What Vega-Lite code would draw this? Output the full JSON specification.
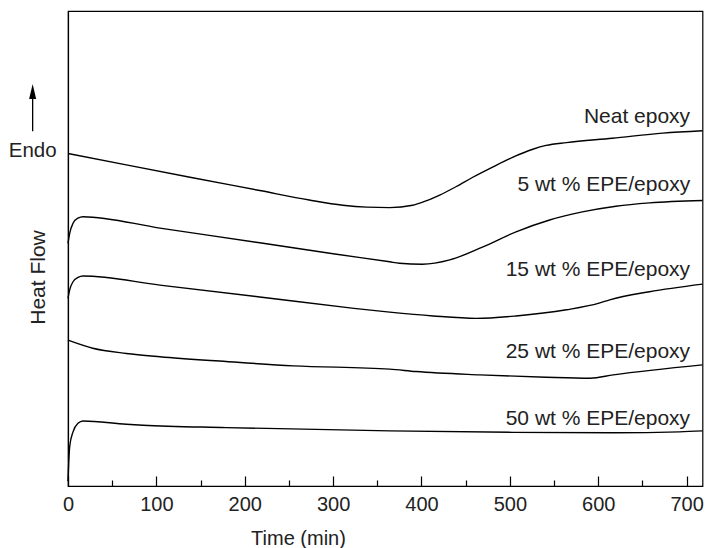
{
  "$schema": "https://vega.github.io/schema/vega-lite/v6.json",
  "width": 634.5,
  "height": 475,
  "autosize": {"type": "none"},
  "padding": {"left": 68, "top": 11, "right": 4.5, "bottom": 62},
  "config": {
    "view": {"stroke": "black", "strokeWidth": 1.2},
    "font": "Liberation Sans",
    "axis": {
      "domainColor": "black",
      "domainWidth": 1.2,
      "tickColor": "black",
      "tickWidth": 1.2,
      "labelColor": "#222",
      "titleColor": "#222",
      "labelFont": "Liberation Sans",
      "titleFont": "Liberation Sans",
      "labelFontSize": 20,
      "titleFontSize": 20,
      "titleFontWeight": "normal",
      "grid": false
    }
  },
  "datasets": {
    "curves": [
      {"series": "Neat epoxy", "time": 0, "hf": 70.0},
      {"series": "Neat epoxy", "time": 66, "hf": 67.6},
      {"series": "Neat epoxy", "time": 141, "hf": 64.9},
      {"series": "Neat epoxy", "time": 217, "hf": 62.2},
      {"series": "Neat epoxy", "time": 273, "hf": 60.2},
      {"series": "Neat epoxy", "time": 311, "hf": 59.1},
      {"series": "Neat epoxy", "time": 338, "hf": 58.7},
      {"series": "Neat epoxy", "time": 364, "hf": 58.6},
      {"series": "Neat epoxy", "time": 390, "hf": 59.1},
      {"series": "Neat epoxy", "time": 402, "hf": 59.8},
      {"series": "Neat epoxy", "time": 420, "hf": 61.2},
      {"series": "Neat epoxy", "time": 439, "hf": 63.0},
      {"series": "Neat epoxy", "time": 458, "hf": 65.0},
      {"series": "Neat epoxy", "time": 481, "hf": 67.2},
      {"series": "Neat epoxy", "time": 503, "hf": 69.2},
      {"series": "Neat epoxy", "time": 526, "hf": 70.9},
      {"series": "Neat epoxy", "time": 541, "hf": 71.7},
      {"series": "Neat epoxy", "time": 564, "hf": 72.3},
      {"series": "Neat epoxy", "time": 616, "hf": 73.2},
      {"series": "Neat epoxy", "time": 673, "hf": 74.3},
      {"series": "Neat epoxy", "time": 718, "hf": 74.8},

      {"series": "5 wt %", "time": 0, "hf": 51.1},
      {"series": "5 wt %", "time": 1.9, "hf": 53.2},
      {"series": "5 wt %", "time": 5.7, "hf": 55.3},
      {"series": "5 wt %", "time": 11.3, "hf": 56.4},
      {"series": "5 wt %", "time": 17, "hf": 56.7},
      {"series": "5 wt %", "time": 104, "hf": 54.3},
      {"series": "5 wt %", "time": 217, "hf": 51.2},
      {"series": "5 wt %", "time": 300, "hf": 48.9},
      {"series": "5 wt %", "time": 364, "hf": 47.2},
      {"series": "5 wt %", "time": 375, "hf": 46.9},
      {"series": "5 wt %", "time": 401, "hf": 46.7},
      {"series": "5 wt %", "time": 432, "hf": 47.6},
      {"series": "5 wt %", "time": 469, "hf": 50.3},
      {"series": "5 wt %", "time": 507, "hf": 53.5},
      {"series": "5 wt %", "time": 545, "hf": 56.0},
      {"series": "5 wt %", "time": 582, "hf": 57.7},
      {"series": "5 wt %", "time": 620, "hf": 58.9},
      {"series": "5 wt %", "time": 658, "hf": 59.6},
      {"series": "5 wt %", "time": 718, "hf": 60.1},

      {"series": "15 wt %", "time": 0, "hf": 39.5},
      {"series": "15 wt %", "time": 1.9, "hf": 41.3},
      {"series": "15 wt %", "time": 5.7, "hf": 43.0},
      {"series": "15 wt %", "time": 11.3, "hf": 43.9},
      {"series": "15 wt %", "time": 17, "hf": 44.2},
      {"series": "15 wt %", "time": 104, "hf": 42.3},
      {"series": "15 wt %", "time": 217, "hf": 39.8},
      {"series": "15 wt %", "time": 319, "hf": 37.5},
      {"series": "15 wt %", "time": 364, "hf": 36.6},
      {"series": "15 wt %", "time": 413, "hf": 35.8},
      {"series": "15 wt %", "time": 462, "hf": 35.3},
      {"series": "15 wt %", "time": 507, "hf": 35.8},
      {"series": "15 wt %", "time": 564, "hf": 37.1},
      {"series": "15 wt %", "time": 601, "hf": 38.5},
      {"series": "15 wt %", "time": 613, "hf": 39.2},
      {"series": "15 wt %", "time": 658, "hf": 40.9},
      {"series": "15 wt %", "time": 718, "hf": 42.5},

      {"series": "25 wt %", "time": 0, "hf": 30.7},
      {"series": "25 wt %", "time": 28, "hf": 29.0},
      {"series": "25 wt %", "time": 66, "hf": 27.9},
      {"series": "25 wt %", "time": 104, "hf": 27.2},
      {"series": "25 wt %", "time": 179, "hf": 26.2},
      {"series": "25 wt %", "time": 255, "hf": 25.3},
      {"series": "25 wt %", "time": 364, "hf": 24.6},
      {"series": "25 wt %", "time": 394, "hf": 24.1},
      {"series": "25 wt %", "time": 466, "hf": 23.4},
      {"series": "25 wt %", "time": 541, "hf": 22.9},
      {"series": "25 wt %", "time": 591, "hf": 22.7},
      {"series": "25 wt %", "time": 617, "hf": 23.4},
      {"series": "25 wt %", "time": 718, "hf": 25.5},

      {"series": "50 wt %", "time": 0, "hf": 1.0},
      {"series": "50 wt %", "time": 0.8, "hf": 4.8},
      {"series": "50 wt %", "time": 1.9, "hf": 8.3},
      {"series": "50 wt %", "time": 5.7, "hf": 11.4},
      {"series": "50 wt %", "time": 11.3, "hf": 13.2},
      {"series": "50 wt %", "time": 17, "hf": 13.7},
      {"series": "50 wt %", "time": 66, "hf": 13.0},
      {"series": "50 wt %", "time": 85, "hf": 12.8},
      {"series": "50 wt %", "time": 179, "hf": 12.3},
      {"series": "50 wt %", "time": 364, "hf": 11.6},
      {"series": "50 wt %", "time": 503, "hf": 11.3},
      {"series": "50 wt %", "time": 617, "hf": 11.2},
      {"series": "50 wt %", "time": 692, "hf": 11.4},
      {"series": "50 wt %", "time": 718, "hf": 11.6}
    ],
    "labels": [
      {"label": "Neat epoxy", "time": 704, "hf": 76.4},
      {"label": "5 wt % EPE/epoxy", "time": 704, "hf": 62.1},
      {"label": "15 wt % EPE/epoxy", "time": 704, "hf": 44.3},
      {"label": "25 wt % EPE/epoxy", "time": 704, "hf": 26.9},
      {"label": "50 wt % EPE/epoxy", "time": 704, "hf": 12.8}
    ]
  },
  "layer": [
    {
      "data": {"name": "curves"},
      "mark": {"type": "line", "interpolate": "monotone", "color": "black", "strokeWidth": 1.4},
      "encoding": {
        "x": {
          "field": "time",
          "type": "quantitative",
          "scale": {"domain": [0, 718], "nice": false, "zero": false},
          "axis": {
            "title": "Time (min)",
            "values": [0, 50, 100, 150, 200, 250, 300, 350, 400, 450, 500, 550, 600, 650, 700],
            "labelExpr": "datum.value % 100 === 0 ? datum.label : ''",
            "tickSize": {"condition": {"test": "datum.value % 100 === 0", "value": -10}, "value": -6},
            "labelPadding": 18,
            "labelFlush": false,
            "labelOverlap": false,
            "titleX": 230,
            "titleY": 58,
            "titleAlign": "center",
            "titleBaseline": "alphabetic"
          }
        },
        "y": {
          "field": "hf",
          "type": "quantitative",
          "scale": {"domain": [0, 100], "nice": false},
          "axis": {
            "title": "Heat Flow",
            "titleFontSize": 21,
            "labels": false,
            "ticks": false,
            "titleX": -24,
            "titleY": 266,
            "titleAlign": "center",
            "titleBaseline": "alphabetic",
            "titleAngle": -90
          }
        },
        "detail": {"field": "series"}
      }
    },
    {
      "data": {"name": "labels"},
      "mark": {"type": "text", "align": "right", "baseline": "alphabetic", "fontSize": 21, "color": "#222", "font": "Liberation Sans"},
      "encoding": {
        "x": {"field": "time", "type": "quantitative"},
        "y": {"field": "hf", "type": "quantitative"},
        "text": {"field": "label"}
      }
    },
    {
      "data": {"values": [{"label": "Endo"}]},
      "mark": {"type": "text", "align": "center", "baseline": "alphabetic", "fontSize": 20.5, "color": "#222", "font": "Liberation Sans"},
      "encoding": {
        "x": {"datum": -40},
        "y": {"datum": 69.3},
        "text": {"field": "label"}
      }
    },
    {
      "data": {"values": [{"label": "arrow"}]},
      "mark": {"type": "rule", "color": "black", "strokeWidth": 1.3},
      "encoding": {
        "x": {"datum": -40},
        "y": {"datum": 74.7},
        "y2": {"datum": 81.5}
      }
    },
    {
      "data": {"values": [{"label": "arrowhead"}]},
      "mark": {"type": "point", "shape": "M0,-1L0.47,1L-0.47,1Z", "filled": true, "color": "black", "opacity": 1, "size": 225},
      "encoding": {
        "x": {"datum": -40},
        "y": {"datum": 83.05}
      }
    }
  ]
}
